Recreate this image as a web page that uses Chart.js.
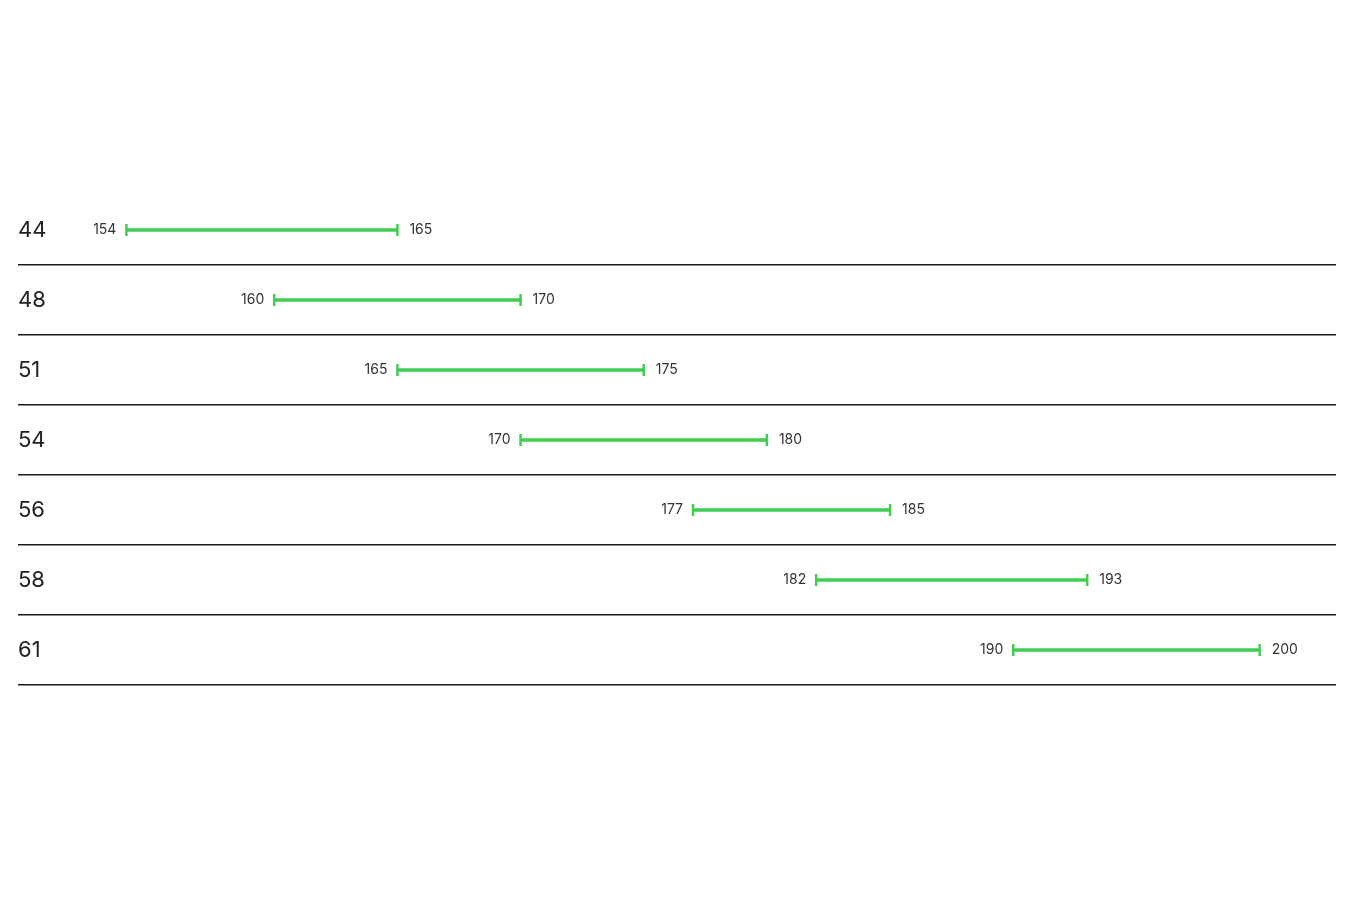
<!DOCTYPE html>
<html>
<head>
<meta charset="utf-8">
<script src="https://cdn.jsdelivr.net/npm/chart.js@4"></script>
<style>
  html, body { margin: 0; padding: 0; background: #fff; }
</style>
</head>
<body>
<canvas id="rangeChart" width="1350" height="900"></canvas>
<script>
// Range chart — one floating bar per row, capped at both ends, values beside caps

const categories = ["44", "48", "51", "54", "56", "58", "61"];
const starts = [154, 160, 165, 170, 177, 182, 190];
const ends = [165, 170, 175, 180, 185, 193, 200];

const GREEN = "#41cc52";

// ── End labels — value text drawn beside each cap ─────────────
const endLabels = {
  id: "endLabels",
  afterDatasetsDraw(chart) {
    const { ctx, scales } = chart;
    ctx.save();
    ctx.font = "14px Inter, 'Noto Sans', sans-serif";
    ctx.fillStyle = "#333";
    ctx.textBaseline = "middle";
    categories.forEach((cat, i) => {
      const y = scales.y.getPixelForValue(i);
      ctx.textAlign = "right";
      ctx.fillText(String(starts[i]), scales.x.getPixelForValue(starts[i]) - 10, y);
      ctx.textAlign = "left";
      ctx.fillText(String(ends[i]), scales.x.getPixelForValue(ends[i]) + 12, y);
    });
    ctx.restore();
  },
};

new Chart(document.getElementById("rangeChart"), {
  type: "bar",
  data: {
    labels: categories,
    datasets: [
      {
        label: "Range",
        data: starts.map((s, i) => [s, ends[i]]),
        backgroundColor: GREEN,
        borderWidth: 0,
        barThickness: 3,
        order: 2,
      },
      {
        type: "line",
        label: "Start caps",
        indexAxis: "y",
        data: starts,
        showLine: false,
        pointStyle: "line",
        rotation: 90,
        pointRadius: 6,
        pointBorderWidth: 2.5,
        borderColor: GREEN,
        pointBorderColor: GREEN,
        order: 1,
      },
      {
        type: "line",
        label: "End caps",
        indexAxis: "y",
        data: ends,
        showLine: false,
        pointStyle: "line",
        rotation: 90,
        pointRadius: 6,
        pointBorderWidth: 2.5,
        borderColor: GREEN,
        pointBorderColor: GREEN,
        order: 1,
      },
    ],
  },
  options: {
    responsive: false,
    animation: false,
    indexAxis: "y",
    layout: { padding: { left: 18, right: 14, top: 195, bottom: 215 } },
    plugins: {
      legend: { display: false },
      tooltip: { enabled: false },
    },
    scales: {
      x: {
        type: "linear",
        min: 149.6,
        max: 203.1,
        display: false,
      },
      y: {
        type: "category",
        offset: true,
        border: { display: false },
        grid: {
          offset: true,
          drawTicks: false,
          lineWidth: 1.5,
          color: (c) => (c.index === 0 ? "rgba(0,0,0,0)" : "#1a1a1a"),
        },
        ticks: {
          mirror: true,
          padding: 0,
          color: "#222",
          font: { family: "Inter, 'Noto Sans', sans-serif", size: 22 },
        },
      },
    },
  },
  plugins: [endLabels],
});
</script>
</body>
</html>
